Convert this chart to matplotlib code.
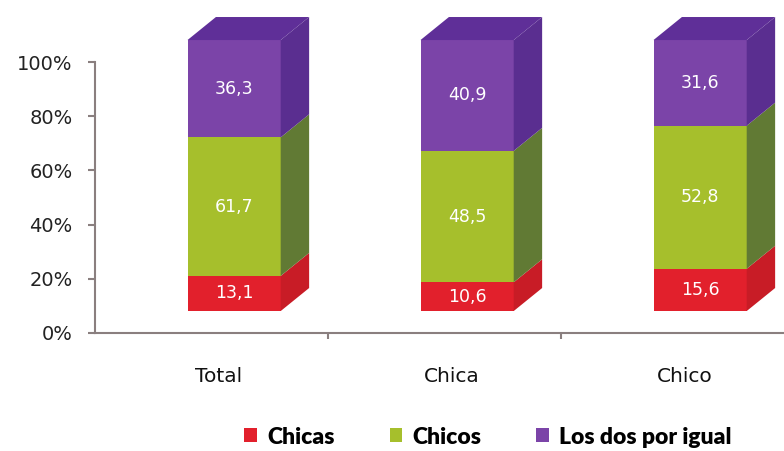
import matplotlib
matplotlib.use("Agg")
import matplotlib.pyplot as plt
from matplotlib.patches import Polygon, Patch
import numpy as np

categories = ["Total", "Chica", "Chico"]
series_names = ["Chicas", "Chicos", "Los dos por igual"]
chicas = [13.1, 10.6, 15.6]
chicos = [51.7, 48.5, 52.8]
ambos = [36.3, 40.9, 31.6]
chicas_labels = ["13,1", "10,6", "15,6"]
chicos_labels = ["61,7", "48,5", "52,8"]
ambos_labels = ["36,3", "40,9", "31,6"]
yticks = [0, 20, 40, 60, 80, 100]
ytick_labels = ["0%", "20%", "40%", "60%", "80%", "100%"]

front_colors = ["#e2202c", "#a6bf2c", "#7b44a8"]
side_colors = ["#c81c26", "#617a34", "#5a2e90"]
top_color = "#5f2f98"

W, H = 784, 451
fig = plt.figure(figsize=(W / 100, H / 100), dpi=100)
ax_left, slot = 95, 233
ax = fig.add_axes([ax_left / W, 118 / H, 3 * slot / W, 271 / H])
ax.set_xlim(-0.5, 2.5)
ax.set_ylim(0, 100)

series = [chicas, chicos, ambos]
labels = [chicas_labels, chicos_labels, ambos_labels]
data = np.array(series, dtype=float)
pct = data / data.sum(axis=0) * 100

XOFF, BW = 0.097, 0.4        # front face offset / width (data units)
DX, DY = 0.122, 8.5          # depth offset
Y0 = 8.1                     # front face lift

for i in range(len(categories)):
    x0 = i + XOFF - BW / 2
    x1 = x0 + BW
    bottom = Y0
    for s in range(len(series)):
        h = pct[s, i]
        lo, hi = bottom, bottom + h
        ax.add_patch(Polygon([(x0, lo), (x1, lo), (x1, hi), (x0, hi)],
                             closed=True, facecolor=front_colors[s],
                             edgecolor="none", clip_on=False, zorder=3))
        ax.add_patch(Polygon([(x1, lo), (x1 + DX, lo + DY), (x1 + DX, hi + DY), (x1, hi)],
                             closed=True, facecolor=side_colors[s],
                             edgecolor="none", clip_on=False, zorder=3))
        ax.text((x0 + x1) / 2, (lo + hi) / 2, labels[s][i], color="white",
                ha="center", va="center", fontsize=12.5, family="DejaVu Sans",
                zorder=5)
        bottom = hi
    ax.add_patch(Polygon([(x0, bottom), (x1, bottom), (x1 + DX, bottom + DY),
                          (x0 + DX, bottom + DY)], closed=True,
                         facecolor=top_color, edgecolor="none", clip_on=False, zorder=3))

axis_color = "#8a7f7f"
for side in ["top", "right"]:
    ax.spines[side].set_visible(False)
ax.spines["left"].set_color(axis_color)
ax.spines["bottom"].set_color(axis_color)
ax.spines["left"].set_linewidth(1.5)
ax.spines["bottom"].set_linewidth(1.5)
ax.set_yticks(yticks)
ax.set_yticklabels(ytick_labels, fontsize=14, family="DejaVu Sans", color="#222222")
ax.tick_params(axis="y", length=5, width=1.5, color=axis_color, pad=11)
ax.set_xticks([0.5, 1.5])
ax.set_xticklabels([])
ax.tick_params(axis="x", length=4, width=1.5, color=axis_color, direction="out")
for i, c in enumerate(categories):
    ax.text(i + 0.03, -16, c, ha="center", va="center", fontsize=14.5,
            family="DejaVu Sans", color="#111111")

handles = [Patch(facecolor=front_colors[k], edgecolor="none") for k in range(3)]
leg = fig.legend(handles, series_names, loc="center", bbox_to_anchor=(488 / W, 1 - 437 / H),
                 ncol=3, frameon=False, prop={"family": "Lato", "weight": "heavy", "size": 16.5},
                 handlelength=0.55, handleheight=0.55, handletextpad=0.45, columnspacing=2.4)

fig.savefig("out.png", dpi=100)
